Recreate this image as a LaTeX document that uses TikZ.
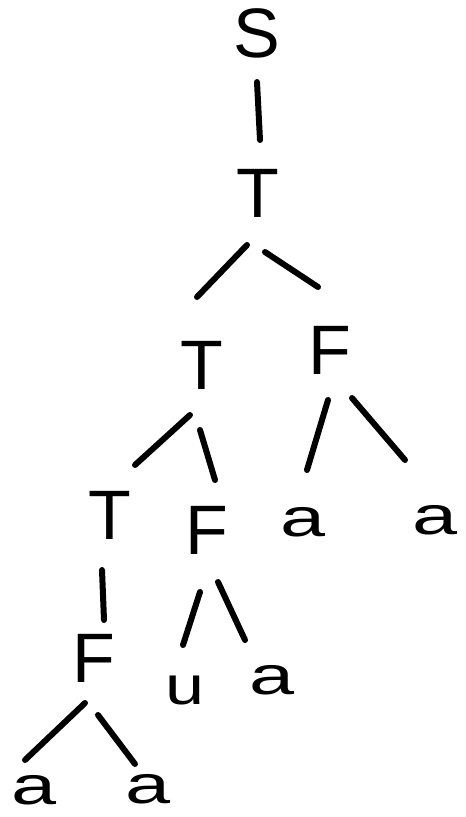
\documentclass[tikz,border=0pt]{standalone}
\usepackage{fontspec}
\setmainfont{Liberation Sans}
\usetikzlibrary{calc}
\tikzset{
  capnode/.style={font=\fontsize{70}{70}\selectfont, inner sep=0pt, anchor=center},
  lownode/.style={font=\fontsize{54}{54}\selectfont, inner sep=0pt, anchor=center},
  edge/.style={line width=6pt, line cap=round, draw=black}
}
\newcommand{\wa}{\scalebox{1.5}[1]{a}}
\newcommand{\wu}{\scalebox{1.3}[1]{u}}
\begin{document}
\begin{tikzpicture}[x=1pt, y=-1pt]
\useasboundingbox (0,0) rectangle (466,817);
\node[capnode] (S) at (257,33) {S};
\node[capnode] (T1) at (258,193) {T};
\node[capnode] (T2) at (202,365) {T};
\node[capnode] (F1) at (330,350) {F};
\node[capnode] (T3) at (110,515) {T};
\node[capnode] (F2) at (207,530) {F};
\node[lownode] (a1) at (303,522) {\wa};
\node[lownode] (a2) at (435,520) {\wa};
\node[capnode] (F3) at (94,658) {F};
\node[lownode] (u) at (185,690) {\wu};
\node[lownode] (a3) at (272,680) {\wa};
\node[lownode] (a4) at (34,790) {\wa};
\node[lownode] (a5) at (148,789) {\wa};

\draw[edge] ($(S)+(0,49)$) -- ($(T1)+(2,-53)$);
\draw[edge] ($(T1)+(-11,52)$) -- ($(T2)+(-5,-68)$);
\draw[edge] ($(T1)+(7,59)$) -- ($(F1)+(-12,-63)$);
\draw[edge] ($(T2)+(-12,50)$) -- ($(T3)+(25,-50)$);
\draw[edge] ($(T2)+(-2,65)$) -- ($(F2)+(8,-50)$);
\draw[edge] ($(F1)+(-2,50)$) -- ($(a1)+(4,-52)$);
\draw[edge] ($(F1)+(22,48)$) -- ($(a2)+(-30,-60)$);
\draw[edge] ($(T3)+(-8,55)$) -- ($(F3)+(10,-38)$);
\draw[edge] ($(F2)+(-7,62)$) -- ($(u)+(-2,-45)$);
\draw[edge] ($(F2)+(11,52)$) -- ($(a3)+(-27,-40)$);
\draw[edge] ($(F3)+(-9,45)$) -- ($(a4)+(-9,-30)$);
\draw[edge] ($(F3)+(4,57)$) -- ($(a5)+(-13,-25)$);
\end{tikzpicture}
\end{document}
